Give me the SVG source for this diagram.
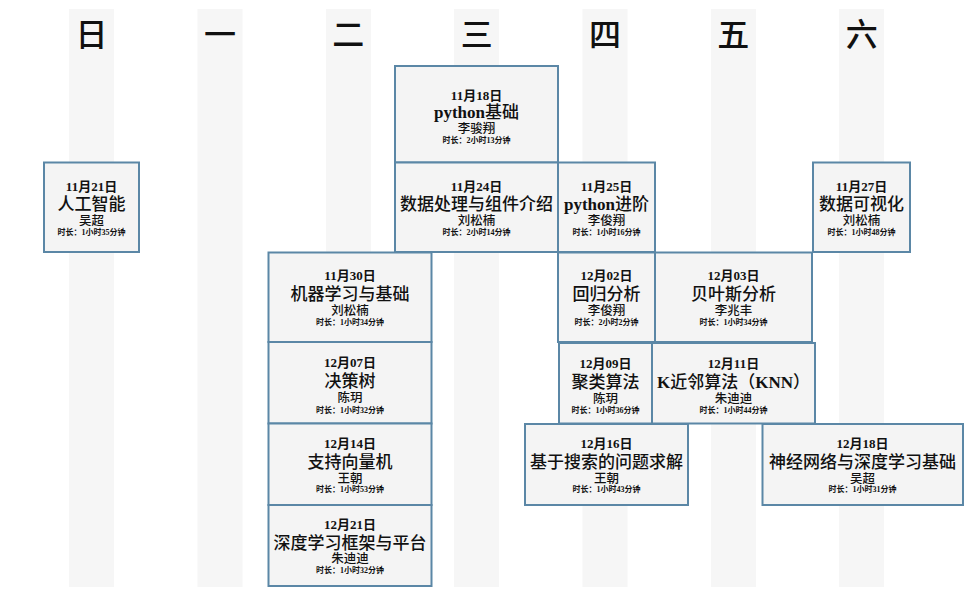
<svg xmlns="http://www.w3.org/2000/svg" width="979" height="591" viewBox="0 0 979 591">
<style>
.band{fill:#f6f6f6}
.hd{font-family:"Liberation Serif","Noto Sans CJK SC",serif;font-size:32px;font-weight:500;fill:#111;text-anchor:middle;dominant-baseline:central}
.box{fill:#f4f4f4;stroke:#5b87a6;stroke-width:2}
text{font-family:"Liberation Serif","Noto Sans CJK SC",serif;text-anchor:middle;dominant-baseline:central;fill:#111}
.d{font-size:13px;font-weight:bold}
.t{font-size:17px;font-weight:500}
.n{font-size:12.5px;font-weight:500}
.u{font-size:8px;font-weight:bold}
.b{font-weight:bold}
</style>
<rect width="979" height="591" fill="#ffffff"/>
<g id="bands">
<rect class="band" x="69" y="9" width="45" height="578"/>
<rect class="band" x="197.5" y="9" width="45" height="578"/>
<rect class="band" x="326" y="9" width="45" height="578"/>
<rect class="band" x="454" y="9" width="45" height="578"/>
<rect class="band" x="582.5" y="9" width="45" height="578"/>
<rect class="band" x="711" y="9" width="45" height="578"/>
<rect class="band" x="839" y="9" width="45" height="578"/>
</g>
<g id="headers">
<text class="hd" x="91.5" y="35">日</text>
<text class="hd" x="220" y="35">一</text>
<text class="hd" x="348.3" y="35">二</text>
<text class="hd" x="476.7" y="35">三</text>
<text class="hd" x="605" y="35">四</text>
<text class="hd" x="733.3" y="35">五</text>
<text class="hd" x="861.7" y="35">六</text>
</g>
<g id="connectors"/>
<g id="n1121">
<rect class="box" x="44" y="162.5" width="95" height="89.5"/>
<text class="d" x="91.5" y="186">11月21日</text>
<text class="t" x="91.5" y="204">人工智能</text>
<text class="n" x="91.5" y="221">吴超</text>
<text class="u" x="91.5" y="232">时长：1小时35分钟</text>
</g>
<g id="n1118">
<rect class="box" x="395" y="66" width="163" height="96.5"/>
<text class="d" x="476.5" y="95">11月18日</text>
<text class="t" x="476.5" y="112"><tspan class="b">python</tspan>基础</text>
<text class="n" x="476.5" y="128.5">李骏翔</text>
<text class="u" x="476.5" y="140">时长：2小时13分钟</text>
</g>
<g id="n1124">
<rect class="box" x="395" y="162.5" width="163" height="89.5"/>
<text class="d" x="476.5" y="186">11月24日</text>
<text class="t" x="476.5" y="204">数据处理与组件介绍</text>
<text class="n" x="476.5" y="221">刘松楠</text>
<text class="u" x="476.5" y="232">时长：2小时14分钟</text>
</g>
<g id="n1125">
<rect class="box" x="558" y="162.5" width="97" height="89.5"/>
<text class="d" x="606.5" y="186">11月25日</text>
<text class="t" x="606.5" y="204"><tspan class="b">python</tspan>进阶</text>
<text class="n" x="606.5" y="221">李俊翔</text>
<text class="u" x="606.5" y="232">时长：1小时16分钟</text>
</g>
<g id="n1127">
<rect class="box" x="813" y="162.5" width="97" height="89.5"/>
<text class="d" x="861.5" y="186">11月27日</text>
<text class="t" x="861.5" y="204">数据可视化</text>
<text class="n" x="861.5" y="221">刘松楠</text>
<text class="u" x="861.5" y="232">时长：1小时48分钟</text>
</g>
<g id="n1130">
<rect class="box" x="268.5" y="252.5" width="163" height="89.5"/>
<text class="d" x="350" y="275.5">11月30日</text>
<text class="t" x="350" y="294">机器学习与基础</text>
<text class="n" x="350" y="311">刘松楠</text>
<text class="u" x="350" y="322">时长：1小时34分钟</text>
</g>
<g id="n1202">
<rect class="box" x="558" y="252.5" width="97" height="89.5"/>
<text class="d" x="606.5" y="275.5">12月02日</text>
<text class="t" x="606.5" y="294">回归分析</text>
<text class="n" x="606.5" y="311">李俊翔</text>
<text class="u" x="606.5" y="322">时长：2小时2分钟</text>
</g>
<g id="n1203">
<rect class="box" x="655" y="252.5" width="157" height="89.5"/>
<text class="d" x="733.5" y="275.5">12月03日</text>
<text class="t" x="733.5" y="294">贝叶斯分析</text>
<text class="n" x="733.5" y="311">李兆丰</text>
<text class="u" x="733.5" y="322">时长：1小时34分钟</text>
</g>
<g id="n1207">
<rect class="box" x="268.5" y="342" width="163" height="81.5"/>
<text class="d" x="350" y="362">12月07日</text>
<text class="t" x="350" y="381">决策树</text>
<text class="n" x="350" y="398">陈玥</text>
<text class="u" x="350" y="410">时长：1小时32分钟</text>
</g>
<g id="n1209">
<rect class="box" x="559" y="343" width="93" height="80.5"/>
<text class="d" x="605.5" y="363">12月09日</text>
<text class="t" x="605.5" y="382">聚类算法</text>
<text class="n" x="605.5" y="399">陈玥</text>
<text class="u" x="605.5" y="410">时长：1小时36分钟</text>
</g>
<g id="n1211">
<rect class="box" x="652" y="343" width="163" height="80.5"/>
<text class="d" x="733.5" y="363">12月11日</text>
<text class="t" x="733.5" y="382"><tspan class="b">K</tspan>近邻算法（<tspan class="b">KNN</tspan>）</text>
<text class="n" x="733.5" y="399">朱迪迪</text>
<text class="u" x="733.5" y="410">时长：1小时44分钟</text>
</g>
<g id="n1214">
<rect class="box" x="268.5" y="423.5" width="163" height="81.5"/>
<text class="d" x="350" y="443">12月14日</text>
<text class="t" x="350" y="462">支持向量机</text>
<text class="n" x="350" y="479">王朝</text>
<text class="u" x="350" y="489.5">时长：1小时53分钟</text>
</g>
<g id="n1216">
<rect class="box" x="525" y="424" width="163" height="81"/>
<text class="d" x="606.5" y="443">12月16日</text>
<text class="t" x="606.5" y="462">基于搜索的问题求解</text>
<text class="n" x="606.5" y="479">王朝</text>
<text class="u" x="606.5" y="489.5">时长：1小时43分钟</text>
</g>
<g id="n1218">
<rect class="box" x="762.5" y="424" width="200.5" height="81"/>
<text class="d" x="862.5" y="443">12月18日</text>
<text class="t" x="862.5" y="462">神经网络与深度学习基础</text>
<text class="n" x="862.5" y="479">吴超</text>
<text class="u" x="862.5" y="489.5">时长：1小时31分钟</text>
</g>
<g id="n1221">
<rect class="box" x="268.5" y="505" width="163" height="81"/>
<text class="d" x="350" y="524">12月21日</text>
<text class="t" x="350" y="543">深度学习框架与平台</text>
<text class="n" x="350" y="559">朱迪迪</text>
<text class="u" x="350" y="570">时长：1小时32分钟</text>
</g>
</svg>
